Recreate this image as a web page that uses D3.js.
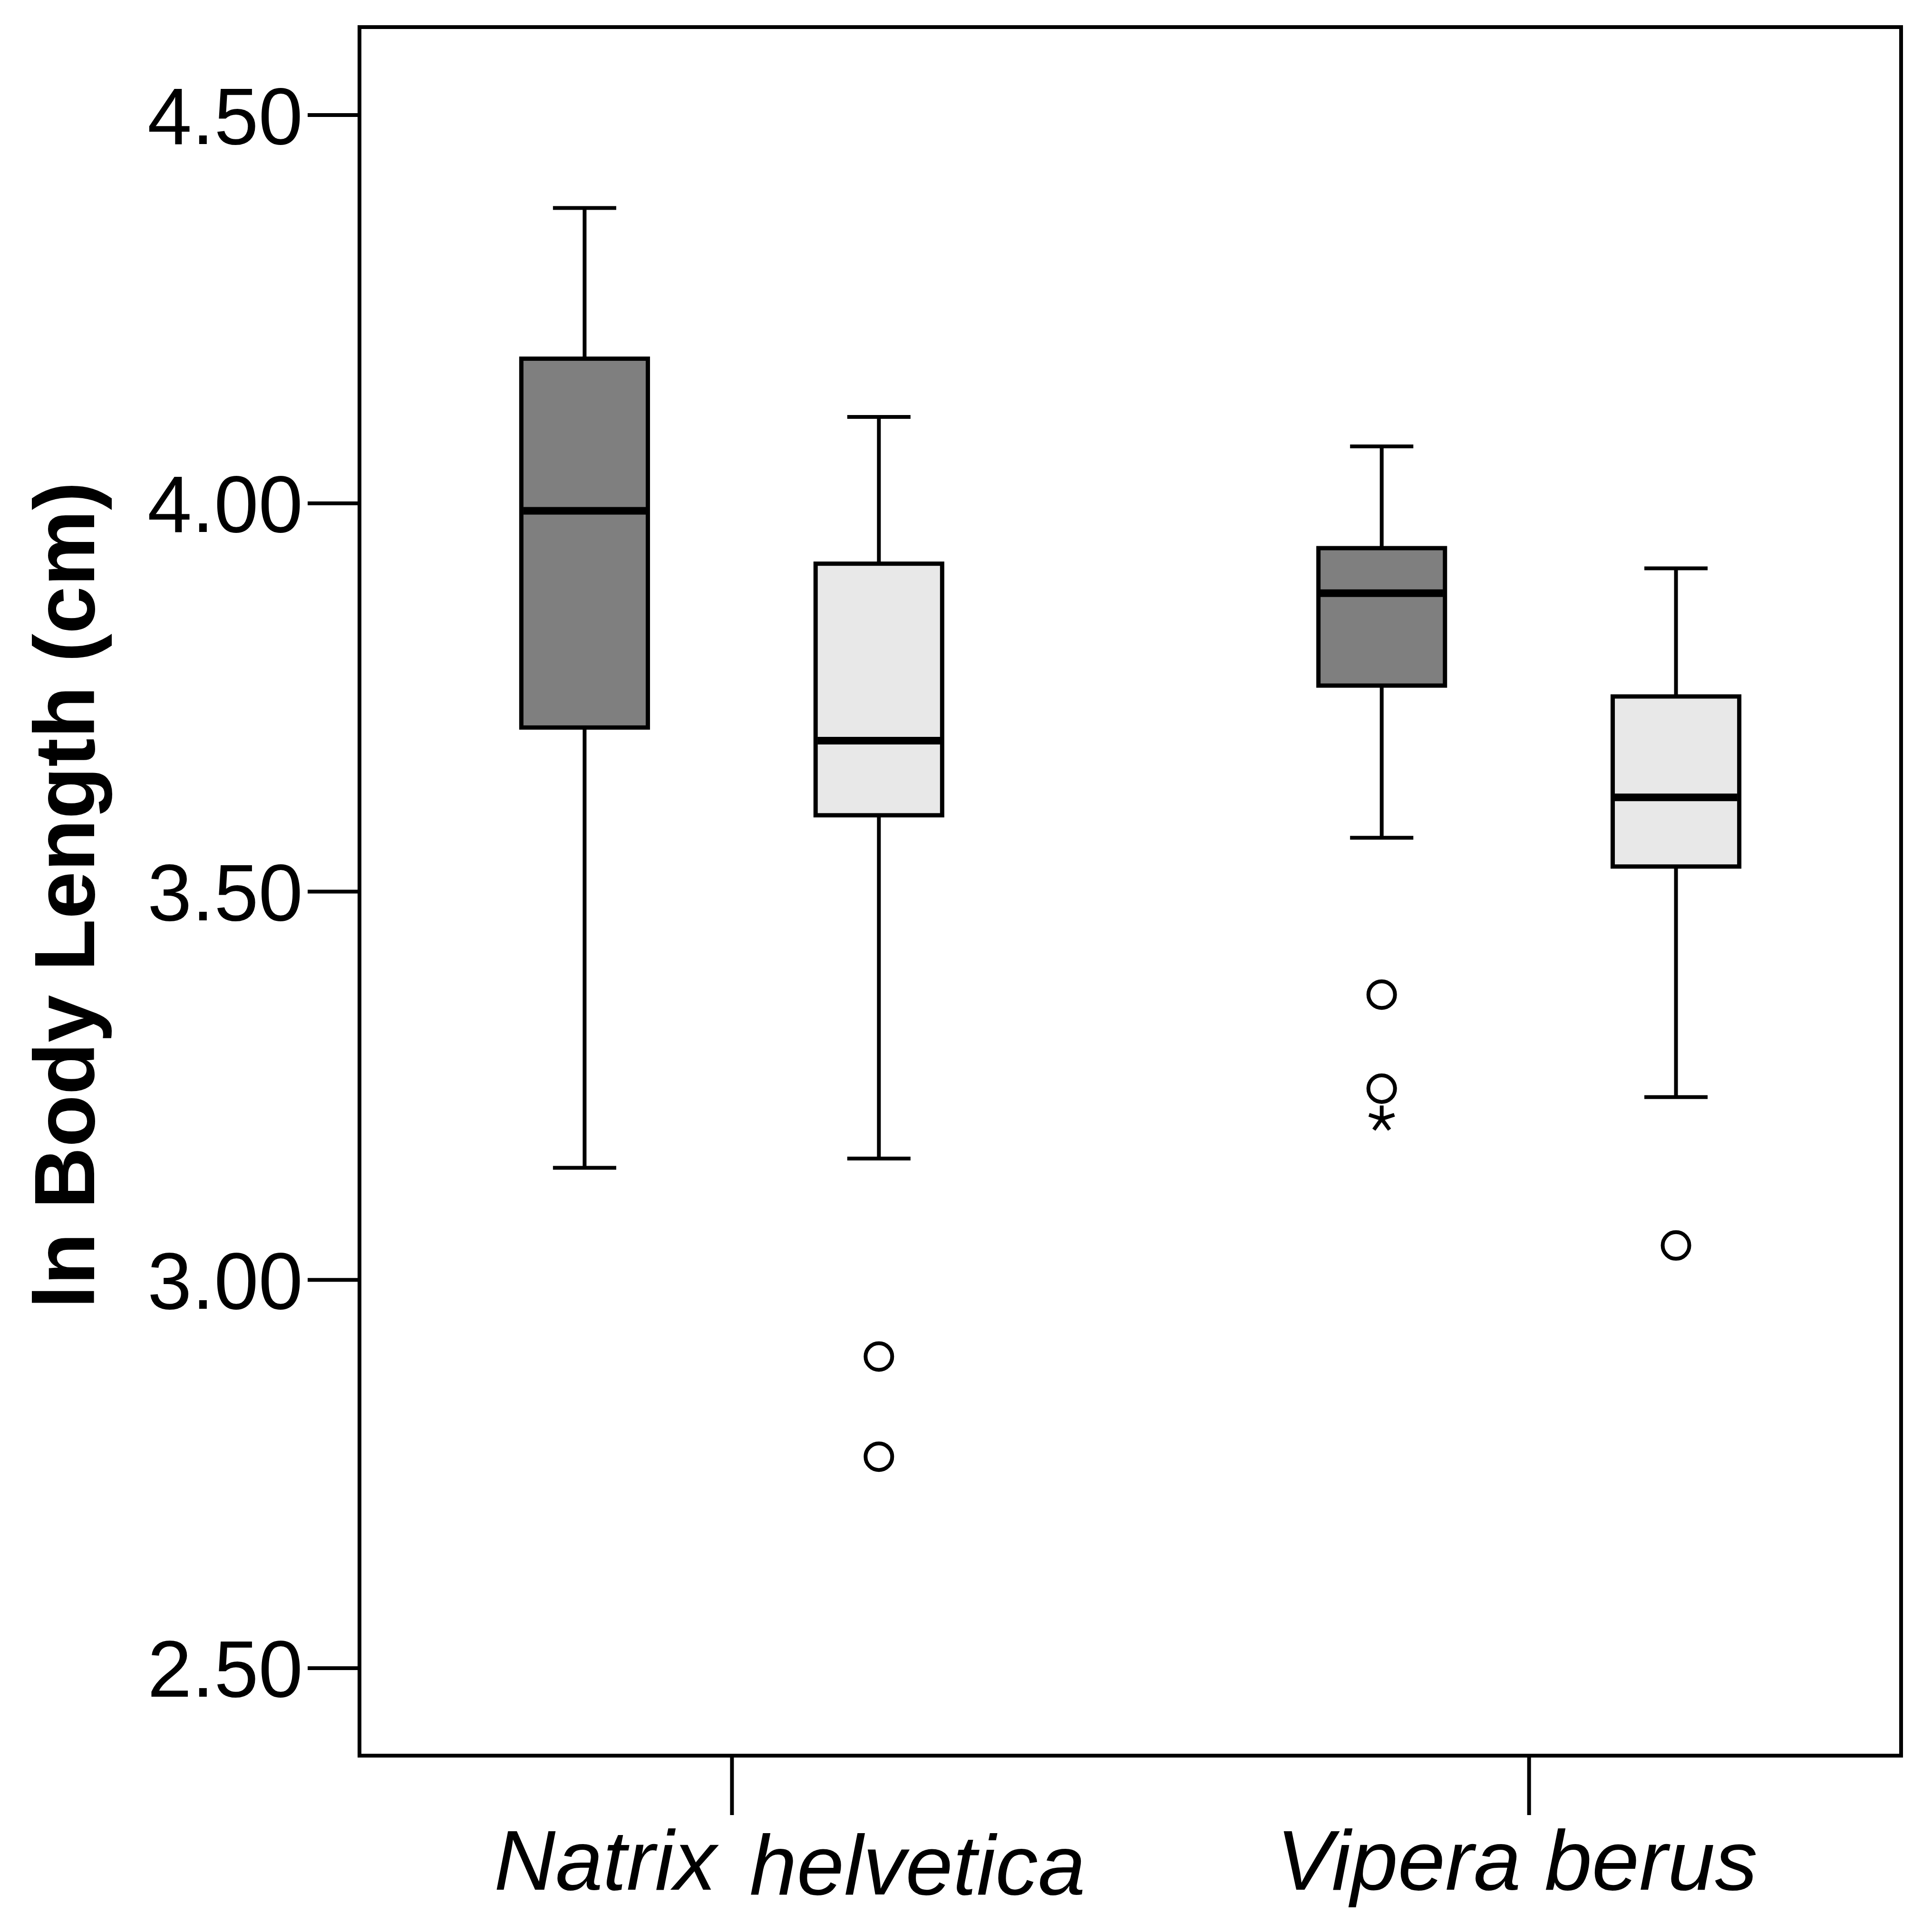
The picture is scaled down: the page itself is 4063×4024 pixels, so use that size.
<!DOCTYPE html>
<html>
<head>
<meta charset="utf-8">
<script src="https://cdn.jsdelivr.net/npm/d3@7"></script>
<style>
  html, body { margin: 0; padding: 0; background: #fff; }
  svg { display: block; }
</style>
</head>
<body>
<script>
// ---------------- data ----------------
const categories = ["Natrix helvetica", "Vipera berus"];
const groups = ["Group 1", "Group 2"];
const groupFill = ["#7f7f7f", "#e8e8e8"];

// [category][group]
const whiskerLow  = [[3.144, 3.156], [3.569, 3.235]];
const q1Values    = [[3.711, 3.598], [3.765, 3.532]];
const medians     = [[3.990, 3.694], [3.884, 3.621]];
const q3Values    = [[4.186, 3.922], [3.942, 3.751]];
const whiskerHigh = [[4.380, 4.111], [4.073, 3.916]];

// outliers: circles (mild) and asterisks (extreme)
const outlierCat   = ["Natrix helvetica", "Natrix helvetica", "Vipera berus", "Vipera berus", "Vipera berus", "Vipera berus"];
const outlierGroup = ["Group 2", "Group 2", "Group 1", "Group 1", "Group 1", "Group 2"];
const outlierValue = [2.901, 2.772, 3.367, 3.246, 3.207, 3.044];
const outlierType  = ["o", "o", "o", "o", "*", "o"];

const yTicks = [2.5, 3.0, 3.5, 4.0, 4.5];
const yDomain = [2.387, 4.613];
const yTitle = "ln Body Length (cm)";

// ---------------- layout ----------------
(function () {
const W = 4063, H = 4024;
const mLeft = 756, mRight = 3998, mTop = 57, mBottom = 3693;
const FONT = "'Liberation Sans', Arial, Helvetica, sans-serif";

const svg = d3.select("body").append("svg")
  .attr("width", W).attr("height", H)
  .attr("viewBox", `0 0 ${W} ${H}`);
svg.append("rect").attr("width", W).attr("height", H).attr("fill", "#fff");

const y = d3.scaleLinear().domain(yDomain).range([mBottom, mTop]);
const x = d3.scalePoint().domain(categories).range([mLeft, mRight]).padding(0.467);
const inner = d3.scaleBand().domain(groups).range([-442.5, 442.5]).paddingInner(0.57);
const bw = inner.bandwidth();

// boxes
const boxes = [];
categories.forEach((c, ci) => groups.forEach((g, gi) => {
  boxes.push({
    c, g, gi,
    lo: whiskerLow[ci][gi], q1: q1Values[ci][gi], med: medians[ci][gi],
    q3: q3Values[ci][gi], hi: whiskerHigh[ci][gi]
  });
}));

const LW = 8;
const plot = svg.append("g");
const bg = plot.selectAll("g.box").data(boxes).join("g").attr("class", "box")
  .attr("transform", d => `translate(${x(d.c) + inner(d.g) + bw / 2},0)`);

// whisker stems
bg.append("line").attr("x1", 0).attr("x2", 0)
  .attr("y1", d => y(d.hi)).attr("y2", d => y(d.q3))
  .attr("stroke", "#000").attr("stroke-width", LW);
bg.append("line").attr("x1", 0).attr("x2", 0)
  .attr("y1", d => y(d.q1)).attr("y2", d => y(d.lo))
  .attr("stroke", "#000").attr("stroke-width", LW);
// caps
bg.append("line").attr("x1", -bw / 4).attr("x2", bw / 4)
  .attr("y1", d => y(d.hi)).attr("y2", d => y(d.hi))
  .attr("stroke", "#000").attr("stroke-width", LW);
bg.append("line").attr("x1", -bw / 4).attr("x2", bw / 4)
  .attr("y1", d => y(d.lo)).attr("y2", d => y(d.lo))
  .attr("stroke", "#000").attr("stroke-width", LW);
// box
bg.append("rect").attr("x", -bw / 2).attr("width", bw)
  .attr("y", d => y(d.q3)).attr("height", d => y(d.q1) - y(d.q3))
  .attr("fill", d => groupFill[d.gi]).attr("stroke", "#000").attr("stroke-width", 9);
// median
bg.append("line").attr("x1", -bw / 2 + 4).attr("x2", bw / 2 - 4)
  .attr("y1", d => y(d.med)).attr("y2", d => y(d.med))
  .attr("stroke", "#000").attr("stroke-width", 16);

// outliers
const outliers = outlierValue.map((v, i) => ({ c: outlierCat[i], g: outlierGroup[i], v, t: outlierType[i] }));
const og = plot.selectAll("g.out").data(outliers).join("g").attr("class", "out")
  .attr("transform", d => `translate(${x(d.c) + inner(d.g) + bw / 2},${y(d.v)})`);
og.filter(d => d.t === "o").append("circle")
  .attr("r", 28).attr("fill", "none").attr("stroke", "#000").attr("stroke-width", 8);
const starLen = 28;
og.filter(d => d.t === "*").append("path")
  .attr("d", () => {
    let p = "";
    for (let k = 0; k < 5; k++) {
      const a = (-90 + k * 72) * Math.PI / 180;
      p += `M0,0L${(starLen * Math.cos(a)).toFixed(2)},${(starLen * Math.sin(a)).toFixed(2)}`;
    }
    return p;
  })
  .attr("fill", "none").attr("stroke", "#000").attr("stroke-width", 8).attr("stroke-linecap", "butt");

// frame
svg.append("rect").attr("x", mLeft).attr("y", mTop)
  .attr("width", mRight - mLeft).attr("height", mBottom - mTop)
  .attr("fill", "none").attr("stroke", "#000").attr("stroke-width", 8);

// y axis
const yAxis = svg.append("g").attr("transform", `translate(${mLeft},0)`)
  .call(d3.axisLeft(y).tickValues(yTicks).tickFormat(d3.format(".2f")).tickSize(109).tickPadding(10));
yAxis.select(".domain").remove();
yAxis.selectAll(".tick line").attr("stroke", "#000").attr("stroke-width", 8);
yAxis.selectAll(".tick text").attr("font-family", FONT).attr("font-size", 168).attr("fill", "#000")
  .attr("dy", "0.36em");

// x axis
const xAxis = svg.append("g").attr("transform", `translate(0,${mBottom})`)
  .call(d3.axisBottom(x).tickSize(125).tickFormat(""));
xAxis.select(".domain").remove();
xAxis.selectAll(".tick line").attr("stroke", "#000").attr("stroke-width", 8);

// x labels (italic species names)
const labelShift = { "Natrix helvetica": 122, "Vipera berus": -25 };
const xl = svg.append("g");
categories.forEach(c => {
  const words = c.split(" ");
  const t = xl.append("text")
    .attr("x", x(c) + labelShift[c]).attr("y", 3975)
    .attr("text-anchor", "middle")
    .attr("font-family", FONT).attr("font-style", "italic").attr("font-size", 179).attr("fill", "#000");
  t.append("tspan").text(words[0]);
  t.append("tspan").attr("dx", c === "Natrix helvetica" ? 20 : 0)
    .attr("dy", c === "Natrix helvetica" ? 10 : 0).text(" " + words[1]);
});

// y title
svg.append("text")
  .attr("transform", `translate(198,${1883}) rotate(-90)`)
  .attr("text-anchor", "middle")
  .attr("font-family", FONT).attr("font-weight", "bold").attr("font-size", 180).attr("fill", "#000")
  .text(yTitle);
})();
</script>
</body>
</html>
